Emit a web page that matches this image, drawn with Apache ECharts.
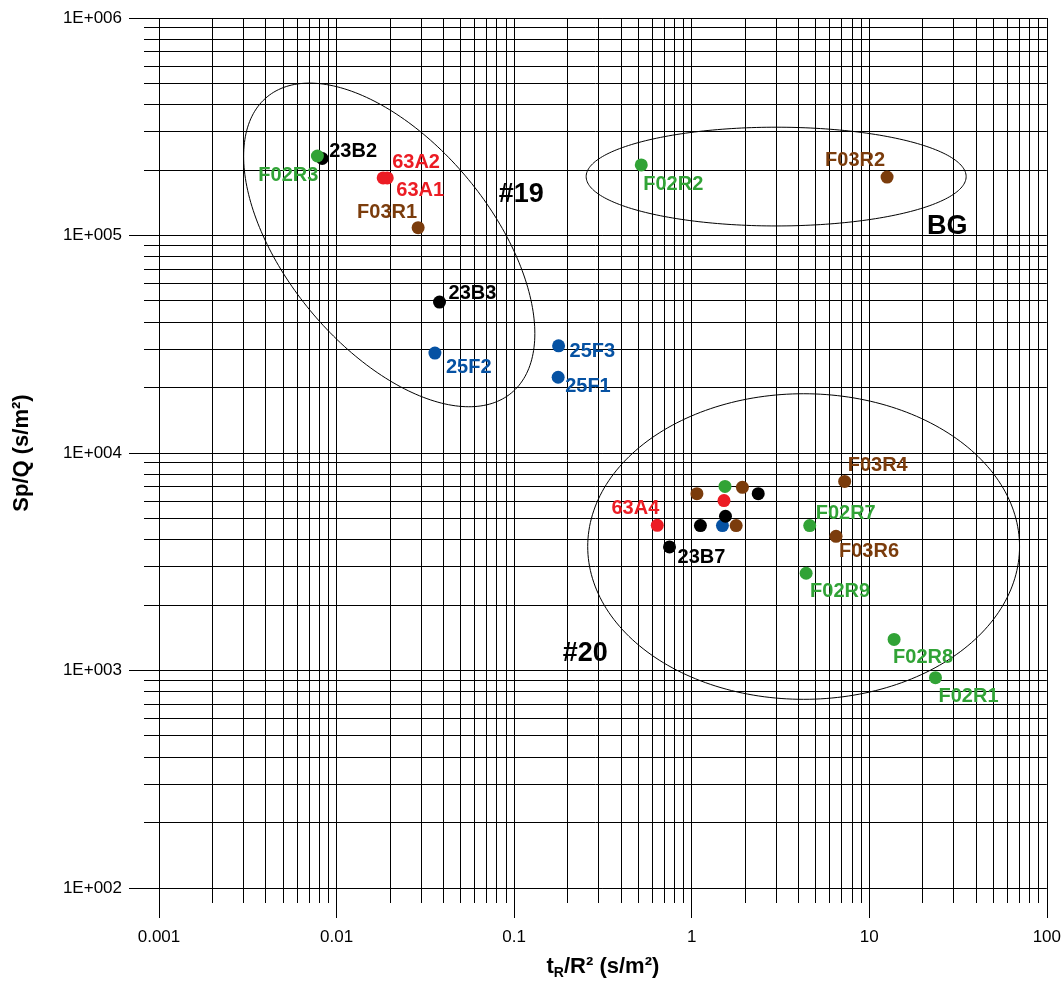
<!DOCTYPE html>
<html>
<head>
<meta charset="utf-8">
<script src="https://cdn.jsdelivr.net/npm/echarts@6/dist/echarts.min.js"></script>
<style>
  html, body { margin: 0; padding: 0; background: #fff; }
  #chart { width: 1064px; height: 985px; }
</style>
</head>
<body>
<div id="chart"></div>
<script>
const FONT = '"Liberation Sans", Arial, Helvetica, sans-serif';

// Axis decades and their labels
const xTickValues = [0.001, 0.01, 0.1, 1, 10, 100];
const xTickLabels = ['0.001', '0.01', '0.1', '1', '10', '100'];
const yTickValues = [1e2, 1e3, 1e4, 1e5, 1e6];
const yTickLabels = ['1E+002', '1E+003', '1E+004', '1E+005', '1E+006'];

// Measurements: t_R/R² (s/m²) and Sp/Q (s/m²) for each sample group
const blueNames = ['25F2', '25F3', '25F1', ''];
const blueTR = [0.0358, 0.178, 0.177, 1.49];
const blueSpQ = [28800, 31100, 22300, 4640];

const brownNames = ['F03R1', 'F03R2', '', '', '', 'F03R6', 'F03R4'];
const brownTR = [0.0288, 12.6, 1.07, 1.78, 1.93, 6.5, 7.27];
const brownSpQ = [108600, 185600, 6500, 4640, 6950, 4140, 7400];

const redNames = ['63A2', '63A1', '63A4', ''];
const redTR = [0.0183, 0.0193, 0.64, 1.52];
const redSpQ = [184000, 184000, 4650, 6040];

const blackNames = ['23B2', '23B3', '23B7', '', '', ''];
const blackTR = [0.0083, 0.038, 0.75, 1.12, 1.55, 2.37];
const blackSpQ = [226000, 49400, 3700, 4640, 5120, 6500];

const greenNames = ['F02R3', 'F02R2', '', 'F02R7', 'F02R9', 'F02R8', 'F02R1'];
const greenTR = [0.0078, 0.52, 1.54, 4.62, 4.41, 13.8, 23.6];
const greenSpQ = [232000, 211000, 7020, 4640, 2800, 1390, 927];

// Grouping envelopes: centre, half extent along each axis (decades), phase (deg) giving the tilt
const groupNames = ['#19', 'BG', '#20'];
const groupCentreTR = [0.0198, 2.99, 4.27];
const groupCentreSpQ = [90500, 186600, 3715];
const groupHalfDecX = [0.820, 1.07, 1.216];
const groupHalfDecY = [0.744, 0.227, 0.7025];
const groupPhase = [123.2, 90, 90];
const groupLabelTR = [0.1097, 27.5, 0.2512];
const groupLabelSpQ = [153500, 109400, 1198];

// Where each point label sits: anchor side, dx, dy (px from the point centre)
const labelPlace = {
  '23B2': ['left', 7, -7], 'F02R3': ['right', 1, 19], '63A2': ['left', 9, -15],
  '63A1': ['left', 9, 13], 'F03R1': ['right', -1, -15], '23B3': ['left', 9, -9],
  '25F2': ['left', 11, 14], '25F3': ['left', 11, 6], '25F1': ['left', 7, 9],
  'F02R2': ['left', 2, 20], 'F03R2': ['right', -2, -17], '63A4': ['right', 2, -17],
  '23B7': ['left', 8, 11], 'F03R4': ['left', 3, -16], 'F02R7': ['left', 6, -12],
  'F03R6': ['left', 3, 15], 'F02R9': ['left', 4, 18], 'F02R8': ['left', -1, 18],
  'F02R1': ['left', 3, 19]
};

const X_MIN = xTickValues[0], X_MAX = xTickValues[xTickValues.length - 1];
const Y_MIN = yTickValues[0], Y_MAX = yTickValues[yTickValues.length - 1];
const SYMBOL = 13;

function tickLabel(values, labels) {
  return function (v) {
    const i = values.findIndex(t => Math.abs(Math.log10(t) - Math.log10(v)) < 1e-6);
    return i >= 0 ? labels[i] : '';
  };
}

// 2..9 multiples inside each decade of a log axis
function minorGrid(lo, hi) {
  const out = [];
  for (let e = Math.round(Math.log10(lo)); e < Math.round(Math.log10(hi)); e++) {
    for (let m = 2; m <= 9; m++) out.push(m * Math.pow(10, e));
  }
  return out;
}

function crisp(v) { return Math.round(v - 0.5) + 0.5; }

function pointSeries(name, color, names, tr, spq, z) {
  return {
    name: name,
    type: 'scatter',
    symbol: 'circle',
    symbolSize: SYMBOL,
    z: z,
    itemStyle: { color: color, opacity: 1 },
    emphasis: { disabled: true },
    data: names.map((n, i) => {
      const item = { name: n, value: [tr[i], spq[i]] };
      if (n && labelPlace[n]) {
        const p = labelPlace[n];
        item.label = {
          show: true,
          formatter: n,
          position: [SYMBOL / 2 + p[1], SYMBOL / 2 + p[2]],
          align: p[0],
          verticalAlign: 'middle',
          color: color,
          fontFamily: FONT,
          fontSize: 20,
          fontWeight: 'bold'
        };
      } else {
        item.label = { show: false };
      }
      return item;
    })
  };
}

const chart = echarts.init(document.getElementById('chart'), null, { renderer: 'canvas' });

const axisCommon = {
  type: 'log',
  logBase: 10,
  axisLine: { show: false },
  axisTick: { show: true, inside: false, length: 30, lineStyle: { color: '#000', width: 1 } },
  splitLine: { show: true, lineStyle: { color: '#000', width: 1 } },
  minorTick: { show: false },
  minorSplitLine: { show: false }
};

chart.setOption({
  animation: false,
  backgroundColor: '#fff',
  grid: { left: 159, right: 15, top: 18, bottom: 96, containLabel: false },
  xAxis: Object.assign({}, axisCommon, {
    min: X_MIN,
    max: X_MAX,
    axisLabel: {
      formatter: tickLabel(xTickValues, xTickLabels),
      margin: 41,
      color: '#000',
      fontFamily: FONT,
      fontSize: 17,
      showMinLabel: true,
      showMaxLabel: true
    },
    name: '{m|t}{s|R}{m|/R² (s/m²)}',
    nameLocation: 'middle',
    nameGap: 66,
    nameTextStyle: {
      color: '#000',
      fontFamily: FONT,
      fontSize: 22,
      fontWeight: 'bold',
      rich: {
        m: { color: '#000', fontFamily: FONT, fontSize: 22, fontWeight: 'bold' },
        s: { color: '#000', fontFamily: FONT, fontSize: 14, fontWeight: 'bold', padding: [12, 0, 0, 0] }
      }
    }
  }),
  yAxis: Object.assign({}, axisCommon, {
    min: Y_MIN,
    max: Y_MAX,
    axisLabel: {
      formatter: tickLabel(yTickValues, yTickLabels),
      margin: 37,
      color: '#000',
      fontFamily: FONT,
      fontSize: 17,
      showMinLabel: true,
      showMaxLabel: true
    },
    name: 'Sp/Q (s/m²)',
    nameLocation: 'middle',
    nameGap: 126,
    nameTextStyle: { color: '#000', fontFamily: FONT, fontSize: 22, fontWeight: 'bold' }
  }),
  series: [
    {
      // minor vertical rules, running a short way below the plot
      type: 'custom',
      silent: true,
      clip: false,
      z: 1,
      data: minorGrid(X_MIN, X_MAX).map(v => [v, Y_MIN]),
      renderItem: function (params, api) {
        const v = api.value(0);
        const top = api.coord([v, Y_MAX]);
        const bot = api.coord([v, Y_MIN]);
        const x = crisp(top[0]);
        return {
          type: 'line',
          shape: { x1: x, y1: top[1], x2: x, y2: bot[1] + 15 },
          style: { stroke: '#000', lineWidth: 1 }
        };
      }
    },
    {
      // minor horizontal rules, running a short way left of the plot
      type: 'custom',
      silent: true,
      clip: false,
      z: 1,
      data: minorGrid(Y_MIN, Y_MAX).map(v => [X_MIN, v]),
      renderItem: function (params, api) {
        const v = api.value(1);
        const l = api.coord([X_MIN, v]);
        const r = api.coord([X_MAX, v]);
        const y = crisp(l[1]);
        return {
          type: 'line',
          shape: { x1: l[0] - 15, y1: y, x2: r[0], y2: y },
          style: { stroke: '#000', lineWidth: 1 }
        };
      }
    },
    {
      // grouping envelopes, drawn as ellipses in log space
      type: 'custom',
      silent: true,
      clip: false,
      z: 3,
      data: groupNames.map((n, i) => [groupCentreTR[i], groupCentreSpQ[i]]),
      renderItem: function (params, api) {
        const i = params.dataIndex;
        const cx = Math.log10(groupCentreTR[i]);
        const cy = Math.log10(groupCentreSpQ[i]);
        const ph = groupPhase[i] * Math.PI / 180;
        const pts = [];
        for (let k = 0; k < 240; k++) {
          const t = k / 240 * 2 * Math.PI;
          const lx = cx + groupHalfDecX[i] * Math.cos(t);
          const ly = cy + groupHalfDecY[i] * Math.cos(t + ph);
          pts.push(api.coord([Math.pow(10, lx), Math.pow(10, ly)]));
        }
        return {
          type: 'polygon',
          shape: { points: pts },
          style: { fill: 'none', stroke: '#000', lineWidth: 1 }
        };
      }
    },
    {
      // group captions
      type: 'custom',
      silent: true,
      clip: false,
      z: 4,
      data: groupNames.map((n, i) => [groupLabelTR[i], groupLabelSpQ[i]]),
      renderItem: function (params, api) {
        const i = params.dataIndex;
        const p = api.coord([api.value(0), api.value(1)]);
        return {
          type: 'text',
          x: p[0],
          y: p[1],
          style: {
            text: groupNames[i],
            fill: '#000',
            font: 'bold 27px ' + FONT,
            align: 'center',
            verticalAlign: 'middle'
          }
        };
      }
    },
    pointSeries('25F', '#0652a3', blueNames, blueTR, blueSpQ, 5),
    pointSeries('F03R', '#7b3c0c', brownNames, brownTR, brownSpQ, 5),
    pointSeries('63A', '#ec1c24', redNames, redTR, redSpQ, 5),
    pointSeries('23B', '#000000', blackNames, blackTR, blackSpQ, 6),
    pointSeries('F02R', '#31a336', greenNames, greenTR, greenSpQ, 7)
  ]
});
</script>
</body>
</html>
